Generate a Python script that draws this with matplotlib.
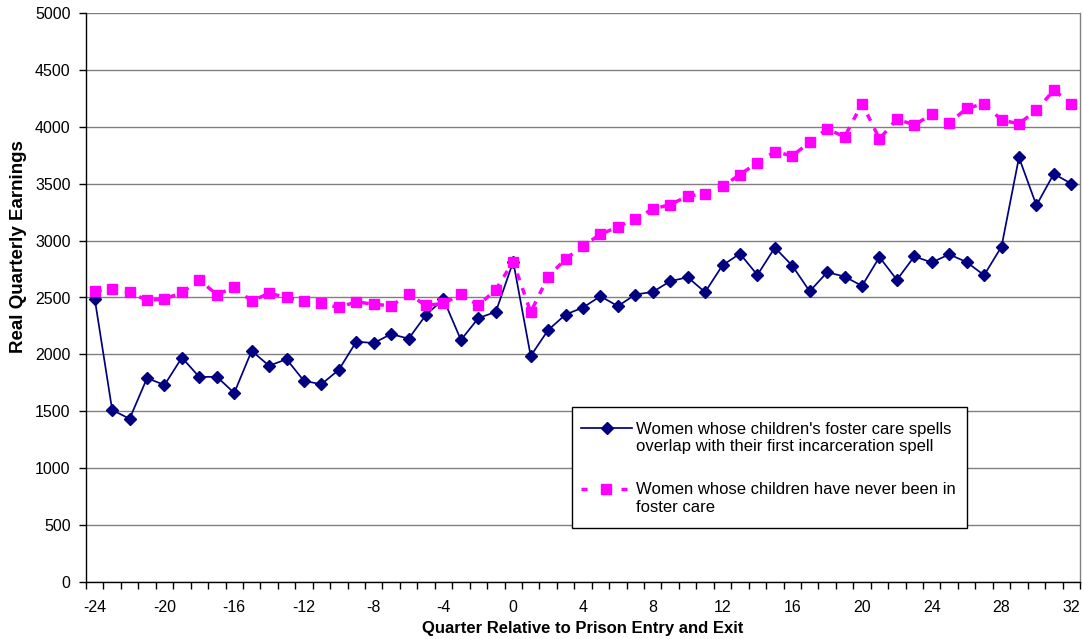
import matplotlib
matplotlib.use("Agg")
import matplotlib.pyplot as plt
from matplotlib.lines import Line2D
from matplotlib.patches import Rectangle
from matplotlib.ticker import FixedLocator, MultipleLocator

plt.rcParams['font.family'] = ['Liberation Sans', 'DejaVu Sans']
plt.rcParams['axes.unicode_minus'] = False

quarters = list(range(-24, 33))

overlap_earnings = [
    2490, 1512, 1434, 1792, 1731, 1972, 1801, 1804, 1661, 2031,
    1900, 1958, 1767, 1738, 1865, 2112, 2100, 2179, 2138, 2348,
    2485, 2127, 2319, 2374, 2815, 1986, 2214, 2350, 2412, 2511,
    2424, 2526, 2549, 2643, 2678, 2547, 2783, 2885, 2698, 2938,
    2780, 2554, 2722, 2684, 2602, 2855, 2655, 2861, 2808, 2879,
    2811, 2696, 2947, 3731, 3310, 3587, 3500,
]

never_foster_earnings = [
    2555, 2575, 2544, 2476, 2486, 2544, 2654, 2526, 2590, 2468,
    2538, 2500, 2471, 2448, 2413, 2462, 2441, 2427, 2529, 2430,
    2448, 2531, 2430, 2570, 2815, 2371, 2683, 2838, 2955, 3055,
    3121, 3194, 3276, 3317, 3390, 3413, 3477, 3580, 3685, 3781,
    3745, 3864, 3982, 3912, 4204, 3894, 4067, 4017, 4109, 4035,
    4161, 4204, 4059, 4027, 4145, 4322, 4202,
]

overlap_label = ("Women whose children's foster care spells\n"
                 "overlap with their first incarceration spell")
never_label = "Women whose children have never been in\nfoster care"

x_tick_labels = list(range(-24, 33, 4))
y_ticks = list(range(0, 5001, 500))

NAVY = '#000080'
MAGENTA = '#FF00FF'

W, H = 1083, 639
AX_L, AX_R, AX_T, AX_B = 86, 1080, 13, 582
fig = plt.figure(figsize=(W / 100, H / 100), dpi=100)
ax = fig.add_axes([AX_L / W, 1 - AX_B / H, (AX_R - AX_L) / W, (AX_B - AX_T) / H])


def ax_frac(px, py):
    """Pixel position in the figure -> axes fraction."""
    return (px - AX_L) / (AX_R - AX_L), (AX_B - py) / (AX_B - AX_T)


ax.plot(quarters, overlap_earnings, color=NAVY, lw=1.25,
        marker='D', markersize=6.2, markerfacecolor=NAVY,
        markeredgecolor=NAVY, zorder=3)
ax.plot(quarters, never_foster_earnings, color=MAGENTA, lw=2.5,
        linestyle=(0, (2.0, 2.4)), marker='s', markersize=7.5,
        markerfacecolor=MAGENTA, markeredgecolor=MAGENTA, zorder=3)

ax.set_xlim(-24.5, 32.5)
ax.set_ylim(0, 5000)

ax.xaxis.set_major_locator(FixedLocator(x_tick_labels))
ax.xaxis.set_minor_locator(MultipleLocator(1, offset=0.5))
ax.tick_params(axis='x', which='major', length=0, pad=13, labelsize=11.5)
ax.tick_params(axis='x', which='minor', length=5, width=1, direction='out',
               color='black')
ax.set_yticks(y_ticks)
ax.tick_params(axis='y', length=5, width=1, direction='out', labelsize=11.5,
               pad=6)

ax.yaxis.grid(True, color='#808080', lw=1)
ax.set_axisbelow(True)

for side in ('left', 'bottom'):
    ax.spines[side].set_color('black')
    ax.spines[side].set_linewidth(1)
ax.spines['top'].set_visible(False)
ax.spines['right'].set_color('#808080')
ax.spines['right'].set_linewidth(1)

ax.set_ylabel('Real Quarterly Earnings', fontsize=13.5, fontweight='bold')
ax.yaxis.label.set_va('center')
ax.yaxis.set_label_coords(*ax_frac(19, 246.5))
ax.set_xlabel('Quarter Relative to Prison Entry and Exit', fontsize=12,
              fontweight='bold')
ax.xaxis.label.set_va('center')
ax.xaxis.set_label_coords(*ax_frac(583, 628))

# Legend box
x0, y0 = ax_frac(572, 528)
x1, y1 = ax_frac(967, 407)
ax.add_patch(Rectangle((x0, y0), x1 - x0, y1 - y0, transform=ax.transAxes,
                       facecolor='white', edgecolor='black', lw=1,
                       zorder=5, clip_on=False))

# Legend entry: overlap series
hx0, hy = ax_frac(581, 428)
hx1, _ = ax_frac(632, 428)
hxm, _ = ax_frac(606.5, 428)
ax.add_line(Line2D([hx0, hx1], [hy, hy], transform=ax.transAxes, color=NAVY,
                   lw=1.25, zorder=6, clip_on=False))
ax.add_line(Line2D([hxm], [hy], transform=ax.transAxes, marker='D',
                   markersize=6.2, color=NAVY, zorder=6, clip_on=False))
tx, ty = ax_frac(636, 437.8)
ax.text(tx, ty, overlap_label, transform=ax.transAxes, fontsize=12,
        ha='left', va='center', linespacing=1.17, zorder=6)

# Legend entry: never-in-foster-care series
hy2 = ax_frac(0, 488.5)[1]
for a, b in ((581, 587), (621, 627)):
    sa, sb = ax_frac(a, 0)[0], ax_frac(b, 0)[0]
    ax.add_line(Line2D([sa, sb], [hy2, hy2], transform=ax.transAxes,
                       color=MAGENTA, lw=2.5, solid_capstyle='butt',
                       zorder=6, clip_on=False))
ax.add_line(Line2D([ax_frac(605.5, 0)[0]], [hy2], transform=ax.transAxes,
                   marker='s', markersize=7.5, color=MAGENTA, zorder=6,
                   clip_on=False))
tx2, ty2 = ax_frac(636, 498.5)
ax.text(tx2, ty2, never_label, transform=ax.transAxes, fontsize=12,
        ha='left', va='center', linespacing=1.17, zorder=6)

fig.savefig('out.png', dpi=100, facecolor='white')
